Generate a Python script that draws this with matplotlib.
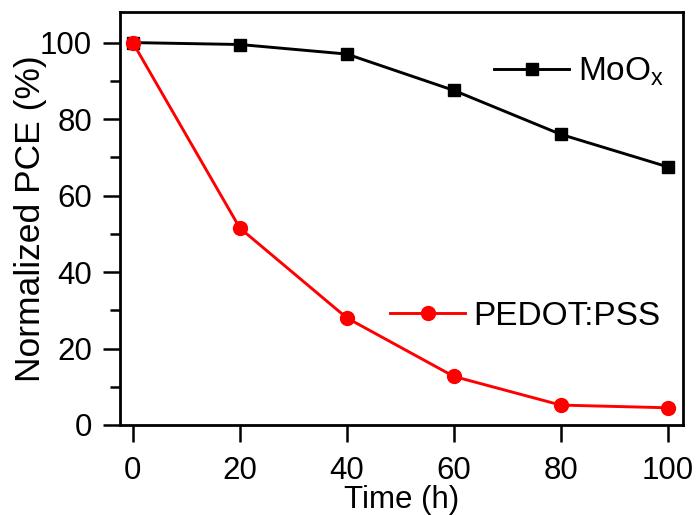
import matplotlib
matplotlib.use("Agg")
import matplotlib.pyplot as plt
from matplotlib.ticker import MultipleLocator

plt.rcParams['font.family'] = ['Liberation Sans', 'DejaVu Sans']
plt.rcParams['mathtext.fontset'] = 'custom'
plt.rcParams['mathtext.rm'] = 'Liberation Sans'

time_h = [0, 20, 40, 60, 80, 100]
moox = [100, 99.5, 97, 87.5, 76, 67.5]
pedot = [100, 51.5, 28, 12.7, 5.2, 4.5]
labels = [r'MoO$_\mathregular{x}$', 'PEDOT:PSS']

fig = plt.figure(figsize=(6.96, 5.15), dpi=100)
ax = fig.add_axes([0.1724, 0.1748, 0.981 - 0.1724, 0.9767 - 0.1748])

l1, = ax.plot(time_h, moox, color='black', lw=2.1, marker='s', ms=8.5)
l2, = ax.plot(time_h, pedot, color='#ff0000', lw=2.1, marker='o', ms=10)

ax.set_xlim(-2.4, 102.8)
ax.set_ylim(0, 108)
ax.xaxis.set_major_locator(MultipleLocator(20))
ax.yaxis.set_major_locator(MultipleLocator(20))
ax.yaxis.set_minor_locator(MultipleLocator(10))

for s in ax.spines.values():
    s.set_linewidth(2)
ax.tick_params(axis='both', which='major', direction='out', length=12.5, width=1.8,
               labelsize=22.5)
ax.tick_params(axis='x', which='major', pad=10)
ax.tick_params(axis='y', which='major', pad=7.5)
ax.tick_params(axis='y', which='minor', direction='out', length=7, width=1.8)
ax.tick_params(axis='x', which='minor', bottom=False)

ax.set_xlabel('Time (h)', fontsize=22.5, labelpad=-1)
ax.set_ylabel('Normalized PCE (%)', fontsize=25.5, labelpad=-5)

leg_kw = dict(frameon=False, fontsize=24, handlelength=2.25, handletextpad=0.25,
              borderaxespad=0, borderpad=0)
leg1 = ax.legend([l1], [labels[0]], loc='center left',
                 bbox_to_anchor=(0.665, 0.855), **leg_kw)
ax.add_artist(leg1)
ax.legend([l2], [labels[1]], loc='center left',
          bbox_to_anchor=(0.48, 0.263), **leg_kw)

fig.savefig('out.png', dpi=100)
